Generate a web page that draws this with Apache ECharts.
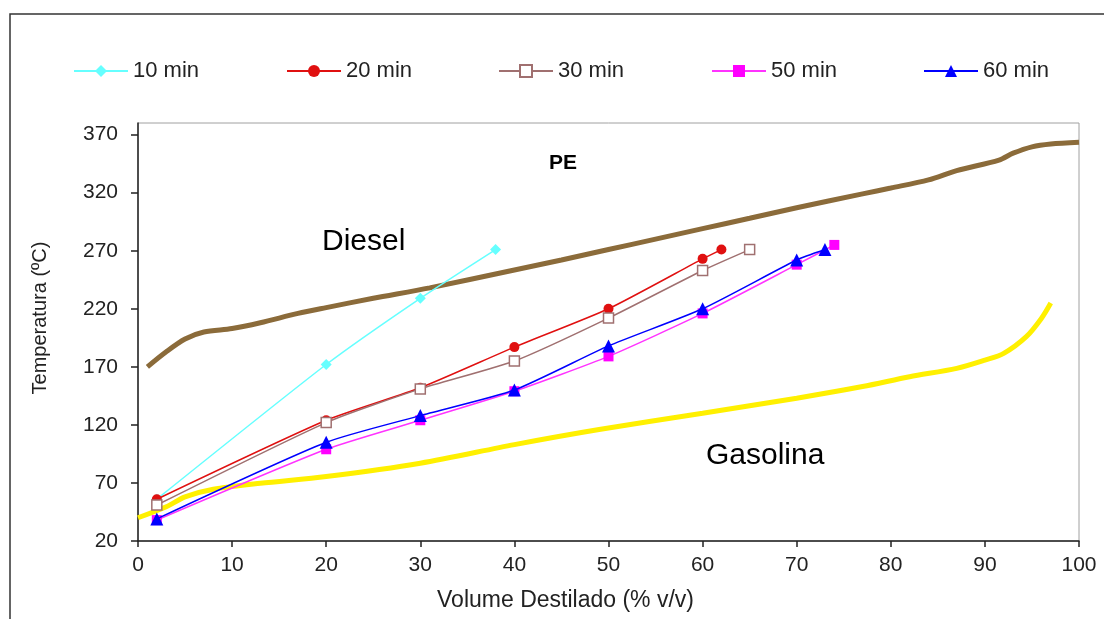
<!DOCTYPE html>
<html>
<head>
<meta charset="utf-8">
<script src="https://cdn.jsdelivr.net/npm/echarts@6/dist/echarts.min.js"></script>
<style>
html,body{margin:0;padding:0;background:#fff;}
#chart{width:1104px;height:619px;}
</style>
</head>
<body>
<div id="chart"></div>
<script>
// ---- data ----
const seriesNames = ['10 min', '20 min', '30 min', '50 min', '60 min'];

const min10X = [2, 20, 30, 38];
const min10T = [56, 172, 229, 271];

const min20X = [2, 20, 30, 40, 50, 60, 62];
const min20T = [56, 124, 152, 187, 220, 263, 271];

const min30X = [2, 20, 30, 40, 50, 60, 65];
const min30T = [51, 122, 151, 175, 212, 253, 271];

const min50X = [2, 20, 30, 40, 50, 60, 70, 74];
const min50T = [38, 99, 124, 149, 179, 216, 258, 275];

const min60X = [2, 20, 30, 40, 50, 60, 70, 73];
const min60T = [39, 105, 128, 150, 188, 220, 262, 271];

// reference curves
const peX = [1, 3, 5, 7, 10, 13, 17, 20, 25, 31, 39.5, 45, 50, 55, 60, 65, 70, 77, 80, 84, 87, 91.5, 93, 95, 97, 100];
const peT = [170, 183, 194, 200, 203, 208, 216, 221, 229, 238, 252.5, 262, 271, 280, 289, 298, 307, 319, 324, 331, 339, 348, 354, 359.5, 362, 363.5];

const gasX = [0, 3, 5, 8, 13, 20, 30, 40, 49, 60, 70, 77, 82, 87, 90, 92, 94.4, 96, 97];
const gasT = [40, 49.5, 58, 64.5, 69.7, 75.5, 87, 103, 116, 130, 143, 153, 161.5, 168.7, 175.8, 181.6, 196, 211.7, 225];

const xTickMin = 0, xTickMax = 100, xTickStep = 10;
const yTickMin = 20, yTickMax = 380, yTickStep = 50;

const annotations = [
  { text: 'PE', x: 549, y: 163, size: 21, weight: 'bold' },
  { text: 'Diesel', x: 322, y: 242, size: 30, weight: 'normal' },
  { text: 'Gasolina', x: 706, y: 456, size: 30, weight: 'normal' }
];

const zip = (xs, ys) => xs.map((x, i) => [x, ys[i]]);

const FONT = '"Liberation Sans", Arial, sans-serif';
const chart = echarts.init(document.getElementById('chart'));

const legendLefts = [73, 286, 498, 711, 923];

const option = {
  backgroundColor: '#fff',
  animation: false,
  grid: {
    left: 138, right: 25, top: 123, bottom: 78,
    show: true, borderColor: '#a0a0a0', borderWidth: 1, backgroundColor: 'transparent'
  },
  legend: seriesNames.map((n, i) => ({
    data: [n],
    left: legendLefts[i],
    top: 60,
    padding: 0,
    itemWidth: 54,
    itemHeight: 15,
    itemGap: 5,
    textStyle: { fontFamily: FONT, fontSize: 22, color: '#222' }
  })),
  xAxis: {
    type: 'value',
    min: xTickMin, max: xTickMax, interval: xTickStep,
    name: 'Volume Destilado (% v/v)',
    nameLocation: 'middle',
    nameGap: 48,
    nameTextStyle: { fontFamily: FONT, fontSize: 23, color: '#222', padding: [0, 86, 0, 0] },
    axisLine: { show: true, onZero: false, lineStyle: { color: '#222', width: 1.5 } },
    axisTick: { show: true, inside: false, length: 6, lineStyle: { color: '#222', width: 1.5 } },
    axisLabel: { fontFamily: FONT, fontSize: 21, color: '#222', margin: 14 },
    splitLine: { show: false }
  },
  yAxis: {
    type: 'value',
    min: yTickMin, max: yTickMax, interval: yTickStep,
    name: 'Temperatura (ºC)',
    nameLocation: 'middle',
    nameGap: 88,
    nameTextStyle: { fontFamily: FONT, fontSize: 20, color: '#222', padding: [0, 0, 0, 28] },
    axisLine: { show: true, onZero: false, lineStyle: { color: '#222', width: 1.5 } },
    axisTick: { show: true, inside: false, length: 7, lineStyle: { color: '#222', width: 1.5 } },
    axisLabel: { fontFamily: FONT, fontSize: 21, color: '#222', margin: 20, showMaxLabel: false },
    splitLine: { show: false }
  },
  graphic: [
    {
      type: 'rect', silent: true, z: -10,
      shape: { x: 10, y: 14, width: 1110, height: 620 },
      style: { fill: 'none', stroke: '#333', lineWidth: 1.5 }
    }
  ].concat(annotations.map(a => ({
    type: 'text', silent: true,
    style: {
      text: a.text, x: a.x, y: a.y,
      fontFamily: FONT, fontSize: a.size, fontWeight: a.weight,
      fill: '#000', verticalAlign: 'middle', align: 'left'
    }
  }))),
  series: [
    {
      name: 'PE', type: 'line', data: zip(peX, peT), smooth: 0.3,
      showSymbol: false, symbol: 'none',
      lineStyle: { color: '#8B6B3A', width: 5 }, itemStyle: { color: '#8B6B3A' }, z: 1
    },
    {
      name: 'Gasolina', type: 'line', data: zip(gasX, gasT), smooth: 0.3,
      showSymbol: false, symbol: 'none',
      lineStyle: { color: '#FFF000', width: 5 }, itemStyle: { color: '#FFF000' }, z: 1
    },
    {
      name: '10 min', type: 'line', data: zip(min10X, min10T), smooth: 0.2,
      symbol: 'diamond', symbolSize: 11,
      lineStyle: { color: '#66FFFF', width: 1.5 }, itemStyle: { color: '#66FFFF' }, z: 3
    },
    {
      name: '20 min', type: 'line', data: zip(min20X, min20T), smooth: 0.2,
      symbol: 'circle', symbolSize: 10,
      lineStyle: { color: '#E01010', width: 1.5 }, itemStyle: { color: '#E01010' }, z: 3
    },
    {
      name: '30 min', type: 'line', data: zip(min30X, min30T), smooth: 0.2,
      symbol: 'rect', symbolSize: 10,
      lineStyle: { color: '#A07070', width: 1.5 },
      itemStyle: { color: '#ffffff', borderColor: '#A07070', borderWidth: 1.5 }, z: 3
    },
    {
      name: '50 min', type: 'line', data: zip(min50X, min50T), smooth: 0.2,
      symbol: 'rect', symbolSize: 10,
      lineStyle: { color: '#FF33FF', width: 1.5 }, itemStyle: { color: '#FF00FF' }, z: 3
    },
    {
      name: '60 min', type: 'line', data: zip(min60X, min60T), smooth: 0.2,
      symbol: 'triangle', symbolSize: 13,
      lineStyle: { color: '#0000FF', width: 1.5 }, itemStyle: { color: '#0000FF' }, z: 4
    }
  ]
};
chart.setOption(option);
</script>
</body>
</html>
